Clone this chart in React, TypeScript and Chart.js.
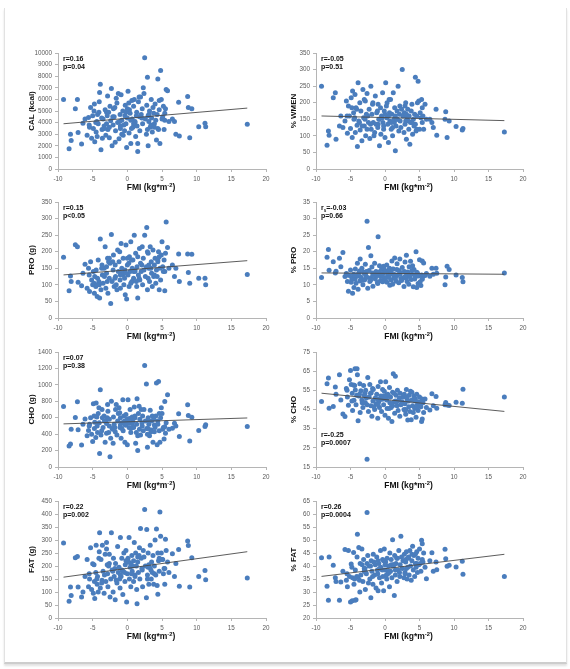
import React, { useEffect, useRef } from 'react';
import { Chart, registerables } from 'chart.js';
Chart.register(...registerables);

// ---------------- DATA ----------------
const FMI = [
  -9.2, -8.4, -8.2, -8.1, -7.5, -7.2, -7.1, -6.6, -6.4, -6.1,
  -5.8, -5.6, -5.45, -5.3, -5.15, -5.0, -4.9, -4.75, -4.7, -4.55,
  -4.5, -4.35, -4.3, -4.2, -4.05, -4.0, -3.9, -3.8, -3.65, -3.6,
  -3.5, -3.35, -3.2, -3.1, -3.0, -2.85, -2.8, -2.6, -2.5, -2.4,
  -2.3, -2.2, -2.05, -2.0, -1.9, -1.75, -1.7, -1.5, -1.4, -1.3,
  -1.2, -1.05, -1.0, -0.9, -0.8, -0.65, -0.6, -0.5, -0.35, -0.3,
  -0.2, -0.1, 0.0, 0.1, 0.25, 0.3, 0.4, 0.5, 0.65, 0.7,
  0.8, 0.9, 1.0, 1.1, 1.2, 1.35, 1.4, 1.5, 1.6, 1.75,
  1.8, 1.9, 2.0, 2.15, 2.2, 2.3, 2.5, 2.6, 2.75, 2.8,
  2.9, 3.0, 3.1, 3.2, 3.3, 3.45, 3.5, 3.6, 3.7, 3.8,
  3.9, 4.0, 4.1, 4.2, 4.3, 4.4, 4.5, 4.6, 4.7, 4.8,
  4.9, 5.0, 5.2, 5.3, 5.4, 5.5, 5.6, 5.8, 6.0, -4.1,
  -3.3, -2.7, -1.6, -0.8, 0.2, 1.1, 1.5, 3.0, 4.4, 5.1,
  6.5, 6.8, 7.0, 7.4, 7.5, 8.7, 8.8, 9.0, 9.3, 10.3,
  11.2, 11.3, 17.3, -0.4, 0.9, 2.1, -2.9, -1.0, 3.4, 0.5,
  -5.5, -4.8, -3.7, -2.6, -1.8, -1.1, -0.2, 0.6, 1.3, 2.4,
  3.1, 3.9, 4.6, 5.4, -4.4, -3.0, -2.1, 1.7, 2.9, 0.0,
];

const CAL = [
  6000, 1750, 3000, 2450, 5200, 6000, 3150, 2150, 3950, 4300,
  2900, 4450, 3600, 5300, 2650, 4600, 3500, 5600, 2350, 4000,
  3200, 2800, 4700, 3900, 5800, 6600, 7300, 1650, 3400, 2650,
  4300, 3700, 5100, 2900, 4900, 6300, 3400, 2700, 5400, 4150,
  6950, 2000, 3800, 5200, 4500, 2300, 3300, 5700, 4000, 6500,
  2600, 4700, 3500, 6400, 4200, 5000, 2900, 3800, 4600, 5500,
  3900, 1850, 4400, 6700, 3100, 5100, 4800, 2200, 5900, 4300,
  3600, 5400, 6000, 4100, 2800, 4900, 3700, 1500, 5800, 4500,
  3300, 6200, 4700, 5200, 3900, 7000, 9600, 4300, 3000, 5500,
  7900, 2000, 4100, 5000, 3600, 6000, 4400, 3200, 5300, 4800,
  3900, 5600, 4200, 2500, 4700, 7750, 3400, 5100, 2200, 8500,
  6000, 4300, 5400, 3400, 4200, 5200, 6850, 6750, 4100, 4900,
  3500, 4900, 6100, 3000, 5700, 4000, 2200, 4600, 3500, 4500,
  4300, 4100, 3000, 5750, 2850, 6250, 5300, 2700, 5200, 3650,
  3950, 3650, 3850, 3300, 3900, 4400, 4600, 3700, 3800, 4200,
  3800, 5000, 4400, 3600, 5300, 4100, 4900, 3500, 4600, 6500,
  4700, 3600, 5900, 4800, 4100, 3900, 4500, 6200, 3400, 5200,
];

const WMEN = [
  250, 72, 115, 102, 215, 230, 90, 130, 160, 125,
  145, 205, 108, 190, 160, 122, 215, 95, 235, 170,
  150, 225, 110, 185, 132, 68, 260, 145, 200, 118,
  175, 85, 240, 155, 130, 205, 100, 228, 160, 140,
  180, 92, 250, 120, 165, 200, 140, 110, 220, 135,
  170, 125, 195, 150, 70, 185, 105, 160, 230, 140,
  120, 175, 95, 260, 155, 200, 135, 80, 170, 145,
  210, 120, 165, 100, 230, 140, 185, 55, 130, 175,
  150, 250, 115, 190, 145, 125, 300, 160, 110, 170,
  135, 200, 90, 155, 180, 120, 160, 75, 140, 175,
  195, 105, 150, 130, 165, 277, 115, 160, 200, 265,
  205, 120, 155, 210, 140, 160, 120, 195, 150, 180,
  130, 165, 100, 150, 190, 125, 160, 145, 135, 170,
  150, 140, 125, 180, 102, 150, 173, 95, 145, 128,
  118, 122, 112, 155, 140, 165, 150, 135, 145, 160,
  160, 185, 140, 120, 195, 175, 130, 210, 150, 180,
  165, 140, 120, 185, 155, 210, 135, 150, 190, 165,
];

const PRO = [
  183, 82, 127, 110, 221, 215, 108, 97, 135, 162,
  90, 150, 80, 170, 115, 100, 140, 75, 125, 95,
  145, 65, 120, 175, 100, 60, 238, 85, 160, 130,
  105, 150, 215, 90, 135, 180, 75, 120, 165, 44,
  252, 110, 145, 190, 95, 160, 125, 85, 205, 140,
  170, 115, 90, 225, 150, 130, 180, 100, 145, 70,
  220, 57, 160, 130, 95, 185, 140, 230, 110, 150,
  175, 120, 250, 140, 195, 95, 155, 60, 130, 210,
  115, 165, 140, 215, 100, 180, 250, 125, 155, 273,
  85, 195, 150, 110, 215, 170, 135, 95, 205, 125,
  160, 180, 105, 145, 125, 170, 200, 85, 150, 115,
  190, 230, 140, 175, 82, 195, 290, 213, 150, 110,
  125, 170, 100, 135, 165, 145, 185, 120, 175, 155,
  160, 125, 150, 193, 110, 193, 137, 105, 192, 120,
  120, 100, 131, 120, 140, 160, 110, 130, 150, 105,
  130, 105, 150, 180, 120, 200, 135, 175, 110, 145,
  160, 130, 185, 140, 100, 155, 170, 120, 200, 180,
];

const PCT_PRO = [
  12.2, 18.3, 20.7, 14.4, 17.0, 13.6, 14.1, 18.0, 15.5, 19.8,
  12.5, 13.4, 11.0, 8.1, 12.8, 14.5, 10.8, 12.0, 7.5, 13.2,
  9.2, 11.8, 14.8, 10.5, 12.6, 16.5, 8.7, 13.5, 11.2, 17.8,
  12.4, 15.0, 10.0, 13.8, 11.5, 16.2, 12.9, 29.2, 9.0, 21.3,
  14.3, 11.0, 18.8, 12.2, 15.4, 9.6, 13.0, 16.5, 11.8, 14.0,
  12.7, 10.4, 24.5, 13.9, 15.8, 11.3, 12.5, 14.6, 10.9, 13.4,
  15.6, 12.0, 11.2, 14.2, 16.0, 10.8, 13.1, 12.6, 15.0, 9.9,
  13.8, 11.5, 17.2, 10.2, 14.8, 12.3, 18.1, 13.0, 11.1, 16.4,
  12.8, 14.4, 10.6, 17.8, 13.3, 11.9, 15.2, 12.1, 9.5, 14.0,
  16.9, 12.4, 18.9, 11.0, 13.9, 10.2, 15.5, 12.7, 17.1, 11.6,
  13.2, 15.8, 9.4, 14.6, 11.8, 12.9, 20.0, 9.2, 13.6, 10.4,
  12.7, 17.6, 9.8, 13.0, 17.2, 12.5, 16.6, 12.8, 13.4, 13.0,
  11.4, 14.0, 12.9, 13.5, 12.2, 14.7, 11.9, 13.8, 12.4, 10.9,
  12.6, 15.0, 13.2, 15.0, 13.5, 10.0, 12.4, 15.6, 14.6, 13.0,
  12.2, 10.9, 13.6, 12.8, 13.3, 14.1, 11.7, 13.5, 12.9, 14.4,
  13.0, 11.6, 14.2, 12.3, 13.6, 10.7, 14.9, 12.2, 13.1, 11.3,
  12.0, 14.3, 13.8, 11.7, 12.9, 13.6, 11.4, 14.6, 12.5, 13.9,
];

const CHO = [
  737, 256, 281, 460, 602, 794, 452, 269, 520, 585,
  380, 445, 520, 600, 400, 310, 770, 470, 545, 360,
  780, 500, 420, 650, 540, 163, 940, 390, 700, 600,
  480, 620, 300, 560, 410, 760, 680, 500, 126, 350,
  800, 470, 290, 610, 520, 430, 700, 390, 560, 650,
  720, 480, 600, 350, 540, 820, 440, 620, 300, 510,
  640, 560, 270, 820, 480, 590, 700, 420, 530, 610,
  550, 480, 730, 600, 290, 520, 830, 200, 650, 460,
  580, 390, 700, 500, 620, 440, 1237, 560, 1009, 470,
  240, 600, 520, 380, 690, 450, 560, 620, 300, 580,
  510, 480, 620, 1022, 270, 560, 1042, 440, 300, 600,
  720, 650, 480, 340, 798, 410, 540, 879, 460, 720,
  560, 420, 760, 470, 540, 620, 380, 470, 520, 460,
  472, 533, 500, 647, 370, 757, 627, 317, 606, 444,
  492, 513, 492, 560, 490, 540, 600, 510, 430, 470,
  500, 620, 440, 580, 480, 660, 510, 590, 420, 700,
  560, 430, 650, 490, 610, 530, 460, 740, 400, 580,
];

const PCT_CHO = [
  49.2, 58.4, 61.4, 45.7, 46.6, 56.8, 53.0, 63.1, 50.0, 42.7,
  41.3, 56.0, 51.5, 47.2, 60.5, 65.4, 58.0, 53.5, 44.5, 57.8,
  49.8, 66.3, 55.2, 47.5, 66.3, 63.1, 39.1, 52.0, 58.5, 43.5,
  54.8, 50.0, 46.0, 57.5, 52.5, 48.5, 55.0, 19.0, 61.7, 44.0,
  51.5, 58.0, 47.0, 53.8, 41.5, 49.5, 55.5, 45.0, 51.0, 48.0,
  53.0, 40.5, 57.0, 49.0, 46.0, 59.5, 52.0, 44.0, 55.5, 50.5,
  47.5, 54.5, 42.0, 59.5, 50.0, 45.5, 53.0, 40.5, 56.5, 48.5,
  51.5, 46.0, 38.7, 54.0, 63.6, 49.0, 43.0, 62.3, 52.5, 47.0,
  55.0, 44.5, 50.0, 41.5, 53.5, 47.5, 49.0, 51.5, 45.0, 53.0,
  48.0, 42.5, 55.5, 50.5, 39.5, 46.5, 52.5, 44.0, 54.5, 39.6,
  50.0, 47.0, 43.5, 52.0, 45.5, 49.5, 41.0, 53.0, 47.5, 44.5,
  49.0, 51.5, 46.5, 38.7, 40.0, 48.5, 43.5, 50.5, 46.0, 52.5,
  48.5, 51.0, 46.5, 50.0, 52.5, 47.0, 49.5, 45.0, 50.5, 47.0,
  44.8, 53.2, 47.0, 51.8, 45.7, 47.5, 48.7, 47.4, 47.1, 48.8,
  48.3, 55.6, 51.5, 50.5, 48.0, 51.0, 53.5, 47.5, 49.5, 52.0,
  55.0, 49.5, 53.0, 47.5, 56.0, 50.5, 52.0, 45.5, 53.5, 48.0,
  51.5, 54.0, 46.0, 50.5, 57.5, 48.5, 53.5, 49.0, 44.5, 51.0,
];

const FAT = [
  288, 64, 119, 87, 232, 237, 119, 81, 100, 160,
  225, 120, 150, 270, 110, 209, 95, 140, 75, 175,
  280, 130, 160, 100, 255, 328, 115, 225, 145, 280,
  180, 95, 245, 140, 290, 170, 120, 210, 81, 150,
  328, 185, 100, 230, 160, 70, 210, 135, 275, 175,
  195, 115, 310, 160, 230, 90, 180, 250, 140, 205,
  260, 62, 170, 230, 310, 150, 195, 120, 240, 180,
  200, 140, 290, 165, 250, 110, 55, 215, 175, 270,
  150, 344, 230, 185, 120, 260, 417, 200, 78, 340,
  165, 250, 130, 195, 280, 150, 215, 175, 240, 130,
  200, 300, 165, 342, 125, 91, 220, 180, 408, 314,
  250, 225, 170, 190, 130, 303, 260, 215, 175, 230,
  165, 200, 145, 185, 215, 160, 235, 195, 250, 225,
  247, 160, 210, 263, 122, 296, 279, 119, 232, 160,
  183, 147, 154, 175, 220, 190, 205, 165, 185, 210,
  170, 205, 135, 245, 190, 150, 220, 170, 200, 235,
  205, 170, 230, 190, 150, 265, 180, 240, 150, 215,
];

const PCT_FAT = [
  43.2, 32.2, 26.8, 43.5, 40.3, 35.5, 34.0, 26.8, 33.8, 38.0,
  46.3, 34.5, 32.0, 46.0, 36.0, 26.2, 40.8, 26.6, 35.5, 45.2,
  33.0, 26.8, 38.5, 27.0, 43.5, 52.2, 35.8, 47.1, 30.0, 41.0,
  36.5, 46.5, 34.0, 42.5, 39.0, 31.0, 37.5, 60.6, 44.0, 33.5,
  40.0, 35.0, 27.8, 42.0, 38.0, 33.0, 44.5, 36.5, 40.5, 31.5,
  43.5, 37.0, 30.5, 41.0, 35.5, 46.0, 39.5, 33.5, 42.5, 36.0,
  30.5, 46.5, 38.5, 41.5, 35.0, 43.0, 37.0, 40.0, 32.0, 45.0,
  38.0, 42.5, 35.5, 50.1, 40.5, 28.7, 44.0, 36.5, 41.0, 34.0,
  43.0, 38.5, 46.0, 36.0, 40.5, 51.4, 39.0, 42.0, 35.5, 44.5,
  37.5, 41.5, 45.5, 35.0, 39.5, 43.0, 36.5, 46.0, 40.0, 34.5,
  42.0, 47.6, 38.5, 44.0, 36.0, 41.0, 39.5, 45.5, 37.5, 43.0,
  40.5, 46.5, 38.0, 49.9, 48.6, 41.5, 45.0, 39.5, 35.1, 36.0,
  40.5, 37.0, 41.5, 39.0, 36.5, 40.0, 38.5, 42.5, 44.5, 41.0,
  42.0, 45.1, 38.0, 41.5, 38.6, 46.4, 42.8, 39.9, 40.3, 39.6,
  41.8, 36.8, 36.0, 38.5, 40.5, 37.5, 39.0, 42.0, 43.5, 38.0,
  37.0, 39.5, 34.5, 41.0, 36.0, 38.5, 42.0, 37.5, 40.5, 43.5,
  39.0, 44.5, 41.0, 42.5, 35.0, 38.0, 40.0, 43.0, 37.0, 40.5,
];

// regression line end points (x at FIT_X)
const FIT_X = [-9.2, 17.3];
const CAL_FIT = [3900, 5250];
const WMEN_FIT = [160, 146];
const PRO_FIT = [130, 173];
const PCT_PRO_FIT = [13.6, 13.2];
const CHO_FIT = [525, 597];
const PCT_CHO_FIT = [53.5, 44];
const FAT_FIT = [157, 255];
const PCT_FAT_FIT = [36, 44.5];

// tick labels
const X_TICKS = [-10, -5, 0, 5, 10, 15, 20];
const CAL_TICKS = [0, 1000, 2000, 3000, 4000, 5000, 6000, 7000, 8000, 9000, 10000];
const WMEN_TICKS = [0, 50, 100, 150, 200, 250, 300, 350];
const PRO_TICKS = [0, 50, 100, 150, 200, 250, 300, 350];
const PCT_PRO_TICKS = [0, 5, 10, 15, 20, 25, 30, 35];
const CHO_TICKS = [0, 200, 400, 600, 800, 1000, 1200, 1400];
const PCT_CHO_TICKS = [15, 25, 35, 45, 55, 65, 75];
const FAT_TICKS = [0, 50, 100, 150, 200, 250, 300, 350, 400, 450];
const PCT_FAT_TICKS = [20, 25, 30, 35, 40, 45, 50, 55, 60, 65];

const Y_TITLES = ['CAL (kcal)', '% WMEN', 'PRO (g)', '% PRO', 'CHO (g)', '% CHO', 'FAT (g)', '% FAT'];
const R_TEXT = ['r=0.16', 'r=-0.05', 'r=0.15', 'r_s=-0.03', 'r=0.07', 'r=-0.25', 'r=0.22', 'r=0.26'];
const P_TEXT = ['p=0.04', 'p=0.51', 'p<0.05', 'p=0.66', 'p=0.38', 'p=0.0007', 'p=0.002', 'p=0.0004'];
const ANN_AT = ['top', 'top', 'top', 'top', 'top', 'bottom', 'top', 'top'];
const X_TITLE = 'FMI (kg*m';
const X_TITLE_SUP = '-2';

// ---------------- LAYOUT ----------------
const FONT = '"Liberation Sans", Arial, sans-serif';
const ROW_TOP = [53, 202, 352, 501];
const ROW_BOTTOM = [169, 318, 467, 618];
const COL = [
  { canvasLeft: 18, width: 262, axisW: 40, titleOff: 26 },
  { canvasLeft: 282, width: 255, axisW: 34, titleOff: 22 },
];
const PAD_TOP = 6;
const PAD_RIGHT = 14;
const X_AXIS_H = 24;

const panels = [
  { y: CAL, ticks: CAL_TICKS, fit: CAL_FIT },
  { y: WMEN, ticks: WMEN_TICKS, fit: WMEN_FIT },
  { y: PRO, ticks: PRO_TICKS, fit: PRO_FIT },
  { y: PCT_PRO, ticks: PCT_PRO_TICKS, fit: PCT_PRO_FIT },
  { y: CHO, ticks: CHO_TICKS, fit: CHO_FIT },
  { y: PCT_CHO, ticks: PCT_CHO_TICKS, fit: PCT_CHO_FIT },
  { y: FAT, ticks: FAT_TICKS, fit: FAT_FIT },
  { y: PCT_FAT, ticks: PCT_FAT_TICKS, fit: PCT_FAT_FIT },
].map((p, i) => ({
  ...p,
  title: Y_TITLES[i],
  r: R_TEXT[i],
  p: P_TEXT[i],
  annAt: ANN_AT[i],
  row: Math.floor(i / 2),
  col: i % 2,
}));

function drawSubText(ctx: CanvasRenderingContext2D, text: string, x: number, y: number, size: number) {
  // supports "_s" subscript marker
  const parts = text.split('_');
  let cx = x;
  parts.forEach((part, idx) => {
    if (idx === 0) {
      ctx.font = `bold ${size}px ${FONT}`;
      ctx.fillText(part, cx, y);
      cx += ctx.measureText(part).width;
    } else {
      const sub = part[0];
      const rest = part.slice(1);
      ctx.font = `bold ${size * 0.65}px ${FONT}`;
      ctx.fillText(sub, cx, y + size * 0.3);
      cx += ctx.measureText(sub).width;
      ctx.font = `bold ${size}px ${FONT}`;
      ctx.fillText(rest, cx, y);
      cx += ctx.measureText(rest).width;
    }
  });
}

function Panel({ cfg }: { cfg: any }) {
  const ref = useRef<HTMLCanvasElement | null>(null);
  const col = COL[cfg.col];
  const top = ROW_TOP[cfg.row];
  const bottom = ROW_BOTTOM[cfg.row];
  const height = PAD_TOP + (bottom - top) + X_AXIS_H;

  useEffect(() => {
    if (!ref.current) return;
    const textPlugin = {
      id: 'panelText',
      afterDraw(chart: any) {
        const { ctx, chartArea: a } = chart;
        ctx.save();
        ctx.fillStyle = '#111';
        // y title
        ctx.save();
        ctx.translate(a.left - col.titleOff, (a.top + a.bottom) / 2);
        ctx.rotate(-Math.PI / 2);
        ctx.font = `bold 8px ${FONT}`;
        ctx.textAlign = 'center';
        ctx.textBaseline = 'middle';
        ctx.fillText(cfg.title, 0, 0);
        ctx.restore();
        // x title with superscript
        const base = `bold 8.5px ${FONT}`;
        const sup = `bold 5.8px ${FONT}`;
        ctx.font = base;
        const w1 = ctx.measureText(X_TITLE).width;
        const w3 = ctx.measureText(')').width;
        ctx.font = sup;
        const w2 = ctx.measureText(X_TITLE_SUP).width;
        const total = w1 + w2 + w3;
        const x0 = (a.left + a.right) / 2 - 11 - total / 2;
        const yb = a.bottom + 20.8;
        ctx.textAlign = 'left';
        ctx.textBaseline = 'alphabetic';
        ctx.font = base;
        ctx.fillText(X_TITLE, x0, yb);
        ctx.font = sup;
        ctx.fillText(X_TITLE_SUP, x0 + w1, yb - 3.2);
        ctx.font = base;
        ctx.fillText(')', x0 + w1 + w2, yb);
        // annotation
        ctx.textBaseline = 'middle';
        const ax = a.left + 5;
        const y1 = cfg.annAt === 'top' ? a.top + 6.5 : a.bottom - 31.5;
        drawSubText(ctx, cfg.r, ax, y1, 7);
        drawSubText(ctx, cfg.p, ax, y1 + 7.6, 7);
        ctx.restore();
      },
    };

    const tickFont = { family: FONT, size: 6.3 };
    const axisColor = '#b5b5b5';
    const chart = new Chart(ref.current, {
      type: 'scatter',
      data: {
        datasets: [
          {
            type: 'line',
            data: FIT_X.map((x, i) => ({ x, y: cfg.fit[i] })),
            borderColor: '#4a4a4a',
            borderWidth: 0.9,
            pointRadius: 0,
            fill: false,
            order: 0,
          } as any,
          {
            data: FMI.map((x, i) => ({ x, y: cfg.y[i] })),
            backgroundColor: '#4a7dbd',
            borderWidth: 0,
            pointRadius: 2.5,
            order: 1,
          },
        ],
      },
      options: {
        animation: false,
        responsive: false,
        devicePixelRatio: 1,
        events: [],
        layout: { padding: { left: 0, top: PAD_TOP, right: PAD_RIGHT, bottom: 0 } },
        plugins: { legend: { display: false }, tooltip: { enabled: false } },
        scales: {
          x: {
            type: 'linear',
            min: X_TICKS[0],
            max: X_TICKS[X_TICKS.length - 1],
            afterBuildTicks: (s: any) => {
              s.ticks = X_TICKS.map((v) => ({ value: v }));
            },
            afterFit: (s: any) => {
              s.height = X_AXIS_H;
              s.paddingLeft = 0;
              s.paddingRight = 0;
            },
            ticks: {
              font: tickFont,
              color: '#5a5a5a',
              padding: 3,
              maxRotation: 0,
              autoSkip: false,
              callback: (v: any) => String(v),
            },
            grid: { display: true, drawOnChartArea: false, drawTicks: true, tickLength: 3, color: axisColor },
            border: { display: true, color: axisColor, width: 1 },
          },
          y: {
            type: 'linear',
            min: cfg.ticks[0],
            max: cfg.ticks[cfg.ticks.length - 1],
            afterBuildTicks: (s: any) => {
              s.ticks = cfg.ticks.map((v: number) => ({ value: v }));
            },
            afterFit: (s: any) => {
              s.width = col.axisW;
              s.paddingTop = 0;
              s.paddingBottom = 0;
            },
            ticks: {
              font: tickFont,
              color: '#5a5a5a',
              padding: 3,
              autoSkip: false,
              callback: (v: any) => String(v),
            },
            grid: { display: true, drawOnChartArea: false, drawTicks: true, tickLength: 3, color: axisColor },
            border: { display: true, color: axisColor, width: 1 },
          },
        },
      },
      plugins: [textPlugin],
    } as any);
    return () => chart.destroy();
  }, []);

  return (
    <canvas
      ref={ref}
      width={col.width}
      height={height}
      style={{
        position: 'absolute',
        left: col.canvasLeft,
        top: top - PAD_TOP,
        width: col.width,
        height,
      }}
    />
  );
}

export default function App() {
  return (
    <div style={{ position: 'absolute', left: 0, top: 0, width: 570, height: 669, background: '#fff' }}>
      <div
        style={{
          position: 'absolute',
          left: 4,
          top: 8,
          width: 561,
          height: 654,
          borderLeft: '1px solid #e2e2e2',
          borderRight: '1px solid #e2e2e2',
          borderBottom: '2px solid #cdcdcd',
          boxShadow: '0 2px 2px rgba(0,0,0,0.12)',
        }}
      />
      {panels.map((p, i) => (
        <Panel key={i} cfg={p} />
      ))}
    </div>
  );
}
